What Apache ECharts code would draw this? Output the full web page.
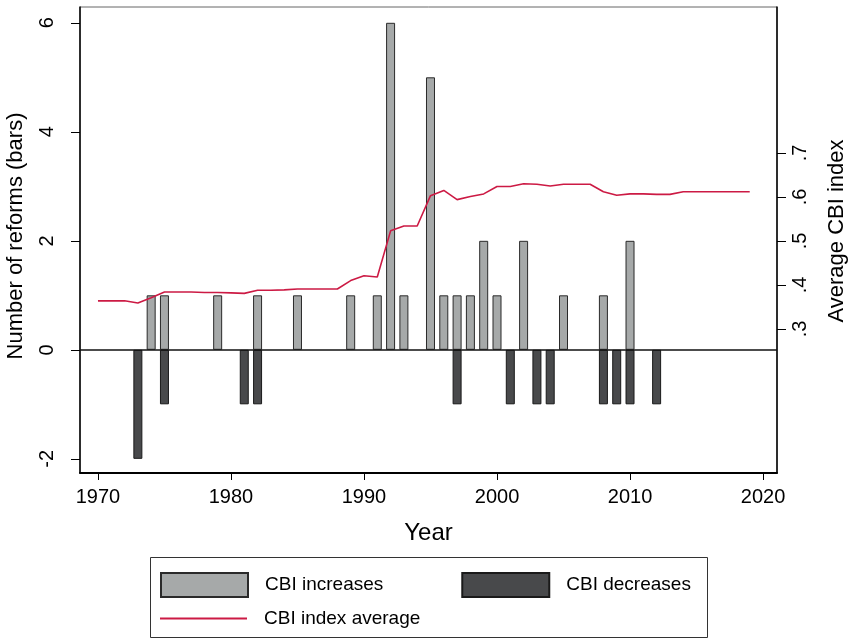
<!DOCTYPE html>
<html>
<head>
<meta charset="utf-8">
<script src="https://cdn.jsdelivr.net/npm/echarts@6/dist/echarts.min.js"></script>
<style>
  html, body { margin: 0; padding: 0; background: #fff; }
  #chart { width: 848px; height: 639px; }
</style>
</head>
<body>
<div id="chart"></div>
<script>
// Reform counts per year (bars, left axis)
const increaseYears = [1974, 1975, 1979, 1982, 1985, 1989, 1991, 1992, 1993, 1995, 1996, 1997, 1998, 1999, 2000, 2002, 2005, 2008, 2010];
const increaseCounts = [1, 1, 1, 1, 1, 1, 1, 6, 1, 5, 1, 1, 1, 2, 1, 2, 1, 1, 2];
const decreaseYears = [1973, 1975, 1981, 1982, 1997, 2001, 2003, 2004, 2008, 2009, 2010, 2012];
const decreaseCounts = [-2, -1, -1, -1, -1, -1, -1, -1, -1, -1, -1, -1];

// Average CBI index per year (line, right axis)
const avgYears = [1970, 1971, 1972, 1973, 1974, 1975, 1976, 1977, 1978, 1979,
                  1980, 1981, 1982, 1983, 1984, 1985, 1986, 1987, 1988, 1989,
                  1990, 1991, 1992, 1993, 1994, 1995, 1996, 1997, 1998, 1999,
                  2000, 2001, 2002, 2003, 2004, 2005, 2006, 2007, 2008, 2009,
                  2010, 2011, 2012, 2013, 2014, 2015, 2016, 2017, 2018, 2019];
const avgIndex = [0.364, 0.364, 0.364, 0.359, 0.371, 0.384, 0.384, 0.384, 0.383, 0.383,
                  0.382, 0.381, 0.388, 0.388, 0.389, 0.391, 0.391, 0.391, 0.391, 0.410,
                  0.421, 0.418, 0.523, 0.534, 0.534, 0.603, 0.615, 0.594, 0.601, 0.607,
                  0.624, 0.624, 0.630, 0.629, 0.625, 0.629, 0.629, 0.629, 0.612, 0.604,
                  0.607, 0.607, 0.606, 0.606, 0.612, 0.612, 0.612, 0.612, 0.612, 0.612];

// Tick labels
const yearTicks = [1970, 1980, 1990, 2000, 2010, 2020];
const countTicks = [-2, 0, 2, 4, 6];
const indexTicks = [0.3, 0.4, 0.5, 0.6, 0.7];

const FONT = 'Liberation Sans, Arial, Helvetica, sans-serif';
const LINE_RED = '#cc1a44';
const zip = (xs, ys) => xs.map((x, i) => [x, ys[i]]);

const chart = echarts.init(document.getElementById('chart'), null, { renderer: 'canvas' });

chart.setOption({
  animation: false,
  backgroundColor: '#ffffff',
  textStyle: { fontFamily: FONT, color: '#000' },
  grid: {
    left: 80, right: 71, top: 7, bottom: 166,
    outerBoundsMode: 'none',
    containLabel: false,
    show: true, borderColor: '#666', borderWidth: 1, backgroundColor: 'transparent'
  },
  xAxis: {
    type: 'value',
    min: 1968.65, max: 2021.05,
    splitLine: { show: false },
    axisLine: { show: true, onZero: false, lineStyle: { color: '#000', width: 2 } },
    axisTick: { show: true, length: 7, customValues: yearTicks, lineStyle: { color: '#000', width: 1 } },
    axisLabel: {
      customValues: yearTicks, fontSize: 20, color: '#000', margin: 14, fontFamily: FONT,
      formatter: v => String(Math.round(v))
    },
    name: 'Year', nameLocation: 'middle', nameGap: 48,
    nameTextStyle: { fontSize: 24, color: '#000', fontFamily: FONT }
  },
  yAxis: [
    {
      type: 'value',
      min: -2.26, max: 6.29,
      position: 'left',
      splitLine: { show: false },
      axisLine: { show: true, onZero: false, lineStyle: { color: '#000', width: 1.5 } },
      axisTick: { show: true, length: 9, customValues: countTicks, lineStyle: { color: '#000', width: 1 } },
      axisLabel: {
        customValues: countTicks, rotate: 90, fontSize: 20, color: '#000', margin: 23, fontFamily: FONT,
        formatter: v => String(Math.round(v))
      },
      name: 'Number of reforms (bars)', nameLocation: 'middle', nameRotate: 90, nameGap: 53,
      nameTextStyle: { fontSize: 22, color: '#000', fontFamily: FONT, padding: [0, 0, 0, 8] }
    },
    {
      type: 'value',
      min: -0.0273, max: 1.0318,
      position: 'right',
      splitLine: { show: false },
      axisLine: { show: true, onZero: false, lineStyle: { color: '#000', width: 1.5 } },
      axisTick: { show: true, length: 9, customValues: indexTicks, lineStyle: { color: '#000', width: 1 } },
      axisLabel: {
        customValues: indexTicks, rotate: 90, fontSize: 20, color: '#000', margin: 13, fontFamily: FONT,
        formatter: v => '.' + Math.round(v * 10)
      },
      name: 'Average CBI index', nameLocation: 'middle', nameRotate: 90, nameGap: 49,
      nameTextStyle: { fontSize: 22, color: '#000', fontFamily: FONT, padding: [0, 0, 0, 18] }
    }
  ],
  legend: [
    {
      left: 160, top: 572, padding: 0,
      icon: 'rect',
      itemWidth: 87, itemHeight: 24, itemGap: 78,
      data: ['CBI increases', 'CBI decreases'],
      textStyle: { fontSize: 19, color: '#000', fontFamily: FONT, padding: [0, 0, 0, 12] }
    },
    {
      left: 160, top: 609, padding: 0,
      icon: 'rect',
      itemWidth: 87, itemHeight: 2,
      itemStyle: { color: LINE_RED, borderWidth: 0 },
      data: ['CBI index average'],
      textStyle: { fontSize: 19, color: '#000', fontFamily: FONT, padding: [0, 0, 0, 12] }
    }
  ],
  graphic: [
    {
      type: 'rect', silent: true, z: 0,
      shape: { x: 150.5, y: 557.5, width: 557, height: 80 },
      style: { fill: '#fff', stroke: '#333', lineWidth: 1 }
    }
  ],
  series: [
    {
      name: 'CBI increases',
      type: 'bar',
      yAxisIndex: 0,
      barWidth: 9,
      barGap: '-100%',
      data: zip(increaseYears, increaseCounts),
      itemStyle: { color: '#a6a9a9', borderColor: '#2a2a2a', borderWidth: 1 },
      markLine: {
        silent: true, symbol: 'none', z: 5,
        label: { show: false },
        lineStyle: { color: '#111', width: 1.5, type: 'solid' },
        data: [{ yAxis: 0 }]
      }
    },
    {
      name: 'CBI decreases',
      type: 'bar',
      yAxisIndex: 0,
      barWidth: 9,
      barGap: '-100%',
      data: zip(decreaseYears, decreaseCounts),
      itemStyle: { color: '#48494b', borderColor: '#1a1a1a', borderWidth: 1 }
    },
    {
      name: 'CBI index average',
      type: 'line',
      yAxisIndex: 1,
      symbol: 'none',
      data: zip(avgYears, avgIndex),
      lineStyle: { color: LINE_RED, width: 1.6 },
      itemStyle: { color: LINE_RED },
      z: 6
    }
  ]
});
</script>
</body>
</html>
